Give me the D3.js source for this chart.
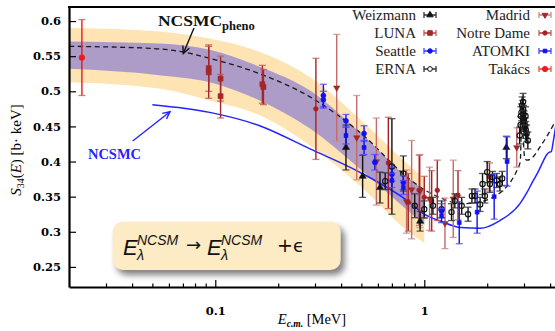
<!DOCTYPE html>
<html>
<head>
<meta charset="utf-8">
<script src="https://cdn.jsdelivr.net/npm/d3@7"></script>
<style>
  body { margin: 0; background: #fff; }
  svg { display: block; }
</style>
</head>
<body>
<svg id="chart" width="555" height="331"></svg>
<script>
// ---- data ----
const takacsE = [0.023], takacsS = [0.548], takacsErr = [0.054];

const lunaE = [0.093, 0.093, 0.106, 0.106, 0.168, 0.170];
const lunaS = [0.533, 0.527, 0.518, 0.493, 0.510, 0.506];
const lunaErr = [0.033, 0.037, 0.032, 0.031, 0.027, 0.025];

const weizE = [0.422, 0.507, 0.614, 0.955, 2.47];
const weizS = [0.420, 0.379, 0.363, 0.315, 0.420];
const weizErr = [0.032, 0.030, 0.022, 0.014, 0.016];

const seattleE = [0.329, 0.329, 0.422, 0.515, 0.58, 0.70, 0.794, 1.21];
const seattleS = [0.494, 0.488, 0.458, 0.440, 0.399, 0.382, 0.370, 0.330];
const seattleErr = [0.016, 0.012, 0.009, 0.011, 0.011, 0.010, 0.010, 0.010];

const ernaE = [0.65, 0.70, 0.794, 0.90, 1.0, 1.10, 1.21, 1.35, 1.40, 1.51, 1.62, 1.69, 1.75, 1.85, 1.90,
  1.95, 2.0, 2.06, 2.12, 2.22, 2.30, 2.36, 2.86, 2.89, 2.90, 2.92, 2.94, 2.96, 2.97, 2.98, 3.00, 3.02,
  3.04, 3.05, 3.06, 3.09, 3.13];
const ernaS = [0.372, 0.393, 0.383, 0.337, 0.332, 0.337, 0.332, 0.328, 0.344, 0.337, 0.325, 0.351, 0.351,
  0.339, 0.368, 0.351, 0.385, 0.368, 0.378, 0.373, 0.368, 0.376, 0.437, 0.452, 0.465, 0.470, 0.480, 0.475,
  0.485, 0.468, 0.460, 0.455, 0.450, 0.465, 0.445, 0.440, 0.430];
const ernaErr = [0.012, 0.068, 0.025, 0.017, 0.012, 0.012, 0.012, 0.012, 0.010, 0.012, 0.010, 0.010, 0.010,
  0.010, 0.015, 0.010, 0.015, 0.012, 0.008, 0.010, 0.010, 0.010, 0.012, 0.012, 0.013, 0.012, 0.012, 0.012,
  0.012, 0.012, 0.012, 0.012, 0.012, 0.013, 0.012, 0.012, 0.012];

const madridE = [0.381, 0.475, 0.59, 0.823, 0.87, 0.953, 1.06, 1.256, 1.376, 2.77];
const madridS = [0.505, 0.434, 0.400, 0.343, 0.360, 0.358, 0.347, 0.312, 0.347, 0.420];
const madridErr = [0.076, 0.060, 0.062, 0.045, 0.070, 0.052, 0.045, 0.036, 0.055, 0.028];

const notreE = [0.303, 0.673, 0.838, 0.946, 1.0, 1.085, 1.154, 1.45, 2.05];
const notreS = [0.475, 0.398, 0.342, 0.359, 0.349, 0.344, 0.359, 0.352, 0.378];
const notreErr = [0.072, 0.065, 0.041, 0.050, 0.030, 0.043, 0.043, 0.035, 0.020];

const atomkiE = [0.422, 0.515, 0.70, 0.794, 1.21, 1.47, 1.79, 2.16, 2.49];
const atomkiS = [0.437, 0.420, 0.373, 0.363, 0.323, 0.313, 0.328, 0.350, 0.400];
const atomkiErr = [0.012, 0.010, 0.010, 0.010, 0.010, 0.030, 0.030, 0.032, 0.035];

// theory curves
const phenoE = [0.02, 0.05, 0.07, 0.094, 0.163, 0.284, 0.49, 0.85, 1.0, 1.2, 1.5, 1.8, 2.1, 2.4, 2.6,
  2.8, 2.88, 2.93, 2.97, 3.02, 3.1, 3.3, 3.6, 3.9, 4.2, 4.5];
const phenoS = [0.564, 0.561, 0.556, 0.547, 0.525, 0.492, 0.442, 0.375, 0.360, 0.348, 0.340, 0.342, 0.348,
  0.360, 0.372, 0.390, 0.400, 0.470, 0.440, 0.405, 0.402, 0.406, 0.422, 0.438, 0.455, 0.470];

const ncsmcE = [0.05, 0.094, 0.163, 0.284, 0.49, 0.85, 1.0, 1.2, 1.5, 1.85, 2.3, 2.87, 3.1, 3.31, 3.5, 3.7,
  3.86, 3.95, 4.05, 4.15, 4.3];
const ncsmcS = [0.481, 0.470, 0.451, 0.418, 0.385, 0.342, 0.325, 0.315, 0.306, 0.305, 0.316, 0.340, 0.356,
  0.372, 0.385, 0.400, 0.410, 0.413, 0.414, 0.430, 0.460];

// uncertainty bands
const bandE = [0.02, 0.054, 0.094, 0.163, 0.284, 0.49, 0.85, 1.0];
const orangeHi = [0.590, 0.585, 0.575, 0.556, 0.520, 0.461, 0.394, 0.376];
const purpleHi = [0.571, 0.568, 0.559, 0.535, 0.501, 0.442, 0.375, 0.359];
const purpleLo = [0.532, 0.523, 0.513, 0.487, 0.447, 0.390, 0.328, 0.310];
const orangeLo = [0.513, 0.504, 0.487, 0.466, 0.423, 0.366, 0.299, 0.284];

const xMajor = [0.1, 1];
const xMinor = [0.03, 0.04, 0.05, 0.06, 0.07, 0.08, 0.09, 0.2, 0.3, 0.4, 0.5, 0.6, 0.7, 0.8, 0.9, 2, 3, 4];
const yTicks = [0.25, 0.3, 0.35, 0.4, 0.45, 0.5, 0.55, 0.6];

// ---- layout ----
const serif = "'Liberation Serif', 'Times New Roman', serif";
const svg = d3.select('#chart');
const plotLeft = 69, plotTop = 7, plotBottom = 287;

const x = d3.scaleLog().domain([0.02, 4.5]).range([69.2, 560.8]);
const y = d3.scaleLinear().domain([0.2214, 0.62]).range([plotBottom, plotTop]);

const defs = svg.append('defs');
defs.append('clipPath').attr('id', 'plotclip')
  .append('rect').attr('x', plotLeft).attr('y', plotTop).attr('width', 500).attr('height', plotBottom - plotTop);
defs.append('filter').attr('id', 'blur')
  .attr('x', '-20%').attr('y', '-30%').attr('width', '140%').attr('height', '160%')
  .append('feGaussianBlur').attr('stdDeviation', 3);

const plot = svg.append('g').attr('clip-path', 'url(#plotclip)');

// bands
const bandIdx = d3.range(bandE.length);
const area = (lo, hi) => d3.area()
  .x(i => x(bandE[i])).y0(i => y(lo[i])).y1(i => y(hi[i]))
  .curve(d3.curveMonotoneX);
plot.append('path').datum(bandIdx).attr('d', area(orangeLo, orangeHi)).attr('fill', '#fde4b2');
plot.append('path').datum(bandIdx).attr('d', area(purpleLo, purpleHi)).attr('fill', '#ae9cc8');

// curves
const lineOf = (xs, ys) => d3.line().x(i => x(xs[i])).y(i => y(ys[i])).curve(d3.curveMonotoneX)(d3.range(xs.length));
plot.append('path').attr('d', lineOf(phenoE, phenoS))
  .attr('fill', 'none').attr('stroke', '#1a1a1a').attr('stroke-width', 1.3).attr('stroke-dasharray', '5,3.5');
plot.append('path').attr('d', lineOf(ncsmcE, ncsmcS))
  .attr('fill', 'none').attr('stroke', '#2424ff').attr('stroke-width', 1.5);

// datasets
const sets = [
  {name: 'Weizmann', E: weizE, S: weizS, err: weizErr, color: '#111', cap: '#333', sym: d3.symbolTriangle, size: 22, fill: true},
  {name: 'LUNA', E: lunaE, S: lunaS, err: lunaErr, color: '#a3282a', cap: '#c25a5a', sym: d3.symbolSquare, size: 26, fill: true},
  {name: 'Seattle', E: seattleE, S: seattleS, err: seattleErr, color: '#1010f0', cap: '#4a4aff', sym: d3.symbolCircle, size: 20, fill: true},
  {name: 'ERNA', E: ernaE, S: ernaS, err: ernaErr, color: '#111', cap: '#333', sym: d3.symbolCircle, size: 22, fill: false},
  {name: 'Madrid', E: madridE, S: madridS, err: madridErr, color: '#c46a6a', cap: '#d08888', sym: d3.symbolTriangle, size: 18, fill: true, down: true, mcolor: '#a3282a'},
  {name: 'Notre Dame', E: notreE, S: notreS, err: notreErr, color: '#a82020', cap: '#c86060', sym: d3.symbolCircle, size: 18, fill: true},
  {name: 'ATOMKI', E: atomkiE, S: atomkiS, err: atomkiErr, color: '#1010f0', cap: '#4a4aff', sym: d3.symbolSquare, size: 16, fill: true},
  {name: 'Takács', E: takacsE, S: takacsS, err: takacsErr, color: '#f01818', cap: '#f05050', sym: d3.symbolCircle, size: 26, fill: true}
];

const drawOrder = ['Madrid', 'Notre Dame', 'Takács', 'LUNA', 'Weizmann', 'ERNA', 'Seattle', 'ATOMKI'];
drawOrder.forEach(n => {
  const s = sets.find(d => d.name === n);
  const g = plot.append('g');
  s.E.forEach((e, i) => {
    const px = x(e), y1 = y(s.S[i] + s.err[i]), y2 = y(s.S[i] - s.err[i]);
    g.append('line').attr('x1', px).attr('x2', px).attr('y1', y1).attr('y2', y2)
      .attr('stroke', s.color).attr('stroke-width', 1.4);
    [y1, y2].forEach(yy => g.append('line').attr('x1', px - 3.5).attr('x2', px + 3.5)
      .attr('y1', yy).attr('y2', yy).attr('stroke', s.cap).attr('stroke-width', 1.3).attr('opacity', 0.8));
    const mc = s.mcolor || s.color;
    g.append('path').attr('d', d3.symbol(s.sym, s.size)())
      .attr('transform', `translate(${px},${y(s.S[i])})${s.down ? ' rotate(180)' : ''}`)
      .attr('fill', s.fill ? mc : 'none').attr('stroke', mc).attr('stroke-width', s.fill ? 0.5 : 1.1);
  });
});

// axes
const axisFont = "'DejaVu Serif', serif";
const xAxis = svg.append('g').attr('transform', `translate(0,${plotBottom})`)
  .call(d3.axisBottom(x).tickValues(xMajor).tickSize(-7).tickSizeOuter(0).tickPadding(20)
    .tickFormat(d3.format('')));
svg.append('g').attr('transform', `translate(0,${plotBottom})`)
  .call(d3.axisBottom(x).tickValues(xMinor).tickSize(-3.5).tickSizeOuter(0).tickFormat(''))
  .call(g => g.select('.domain').remove());
const yAxis = svg.append('g').attr('transform', `translate(${plotLeft},0)`)
  .call(d3.axisLeft(y).tickValues(yTicks).tickSize(-7).tickSizeOuter(0).tickPadding(8)
    .tickFormat(d3.format('')));
[xAxis, yAxis].forEach(a => {
  a.select('.domain').attr('stroke-width', 2.2).attr('stroke', '#000');
  a.selectAll('.tick text').attr('font-family', axisFont).attr('font-weight', 'bold')
    .attr('font-size', 11.5).attr('fill', '#000');
});
svg.selectAll('.tick line').attr('stroke', '#000').attr('stroke-width', 1.2);
svg.append('line').attr('x1', plotLeft - 1).attr('x2', 555).attr('y1', plotTop).attr('y2', plotTop)
  .attr('stroke', '#000').attr('stroke-width', 2.2);

// axis titles
const yl = svg.append('text').attr('transform', 'translate(21,150) rotate(-90)')
  .attr('text-anchor', 'middle').attr('font-family', serif).attr('font-size', 15).attr('fill', '#000');
yl.append('tspan').attr('font-style', 'italic').text('S');
yl.append('tspan').attr('font-size', 10).attr('dy', 3).text('34');
yl.append('tspan').attr('dy', -3).text('(');
yl.append('tspan').attr('font-style', 'italic').text('E');
yl.append('tspan').text(') [b· keV]');

const xl = svg.append('text').attr('x', 312).attr('y', 324).attr('text-anchor', 'middle')
  .attr('font-family', serif).attr('font-size', 14.5).attr('fill', '#000');
xl.append('tspan').attr('font-style', 'italic').text('E');
xl.append('tspan').attr('font-size', 9.5).attr('font-style', 'italic').attr('font-weight', 'bold').attr('dy', 2.5).text('c.m.');
xl.append('tspan').attr('dy', -2.5).text(' [MeV]');

// legend
const legCols = [{tx: 416, mx: 430}, {tx: 530, mx: 545}];
const legRows = [15, 33, 51, 69];
sets.forEach((s, i) => {
  const col = legCols[Math.floor(i / 4)], cy = legRows[i % 4];
  svg.append('text').attr('x', col.tx).attr('y', cy + 5).attr('text-anchor', 'end')
    .attr('font-family', serif).attr('font-size', 15).attr('fill', '#222').text(s.name);
  const g = svg.append('g');
  g.append('line').attr('x1', col.mx - 6).attr('x2', col.mx + 6).attr('y1', cy).attr('y2', cy)
    .attr('stroke', s.color).attr('stroke-width', 1.3);
  [col.mx - 6, col.mx + 6].forEach(xx => g.append('line').attr('x1', xx).attr('x2', xx)
    .attr('y1', cy - 3).attr('y2', cy + 3).attr('stroke', s.cap).attr('stroke-width', 1.3));
  const mc = s.mcolor || s.color;
  g.append('path').attr('d', d3.symbol(s.sym, s.size * 0.8)())
    .attr('transform', `translate(${col.mx},${cy})${s.down ? ' rotate(180)' : ''}`)
    .attr('fill', s.fill ? mc : '#fff').attr('stroke', mc).attr('stroke-width', 1);
});

// annotations
function arrow(x1, y1, x2, y2, color) {
  const ang = Math.atan2(y2 - y1, x2 - x1), L = 8, w = 0.45;
  svg.append('line').attr('x1', x1).attr('y1', y1).attr('x2', x2).attr('y2', y2)
    .attr('stroke', color).attr('stroke-width', 1.4);
  const p = a => [x2 - L * Math.cos(ang + a), y2 - L * Math.sin(ang + a)];
  svg.append('path').attr('d', `M${p(w)}L${x2},${y2}L${p(-w)}`)
    .attr('fill', 'none').attr('stroke', color).attr('stroke-width', 1.4);
}
const pl = svg.append('text').attr('x', 158).attr('y', 26).attr('font-family', serif)
  .attr('font-weight', 'bold').attr('font-size', 15).attr('fill', '#111');
pl.append('tspan').attr('textLength', 64).attr('lengthAdjust', 'spacingAndGlyphs').text('NCSMC');
pl.append('tspan').attr('font-size', 12.5).attr('dy', 4).text('pheno');
arrow(194, 28, 183.3, 53.5, '#111');

svg.append('text').attr('x', 88).attr('y', 159).attr('font-family', serif).attr('font-weight', 'bold')
  .attr('font-size', 14).attr('fill', '#2424ff').attr('textLength', 53).attr('lengthAdjust', 'spacingAndGlyphs')
  .text('NCSMC');
arrow(132.7, 141, 170, 111.7, '#2424ff');

// equation box
const bx = 112.7, by = 221.7, bw = 228, bh = 48.3;
svg.append('rect').attr('x', bx + 4).attr('y', by + 5).attr('width', bw).attr('height', bh).attr('rx', 10)
  .attr('fill', '#555').attr('opacity', 0.75).attr('filter', 'url(#blur)');
svg.append('rect').attr('x', bx).attr('y', by).attr('width', bw).attr('height', bh).attr('rx', 10)
  .attr('fill', '#fcebc4');
const sans = "'Liberation Sans', Arial, sans-serif";
const eq = svg.append('g').attr('font-family', sans).attr('fill', '#111');
function eLam(x0) {
  eq.append('text').attr('x', x0).attr('y', 255).attr('font-size', 22).attr('font-style', 'italic').text('E');
  eq.append('text').attr('x', x0 + 14).attr('y', 245).attr('font-size', 14).attr('font-style', 'italic').text('NCSM');
  eq.append('text').attr('x', x0 + 14).attr('y', 260).attr('font-size', 14.5).attr('font-style', 'italic').text('λ');
}
eLam(123);
eq.append('text').attr('x', 186).attr('y', 251).attr('font-family', "'DejaVu Sans', sans-serif").attr('font-size', 18).text('→');
eLam(207);
eq.append('text').attr('x', 277).attr('y', 252).attr('font-family', "'DejaVu Sans', sans-serif").attr('font-size', 19).text('+');
eq.append('text').attr('x', 293).attr('y', 252).attr('font-family', "'DejaVu Sans', sans-serif").attr('font-size', 18).text('ϵ');
</script>
</body>
</html>
